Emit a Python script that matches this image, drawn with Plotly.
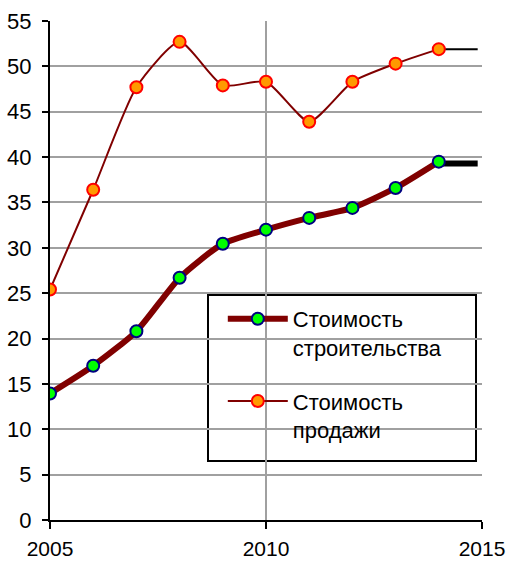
import plotly.graph_objects as go

years = [2005, 2006, 2007, 2008, 2009, 2010, 2011, 2012, 2013, 2014]
construction = [13.95, 17.0, 20.8, 26.7, 30.45, 32.0, 33.3, 34.4, 36.6, 39.5]
sales = [25.4, 36.4, 47.7, 52.7, 47.9, 48.3, 43.9, 48.3, 50.3, 51.9]
tail_x = [2014, 2014.9]
construction_tail = [39.3, 39.3]
sales_tail = [51.9, 51.9]
name_construction = "Стоимость<br>строительства"
name_sales = "Стоимость<br>продажи"
x_ticks = [2005, 2010, 2015]
y_ticks = list(range(0, 60, 5))

FONT = "Liberation Sans, Arial, sans-serif"

fig = go.Figure()
fig.add_trace(go.Scatter(x=tail_x, y=construction_tail, mode="lines",
                         line=dict(color="black", width=6), showlegend=False, hoverinfo="skip"))
fig.add_trace(go.Scatter(x=tail_x, y=sales_tail, mode="lines",
                         line=dict(color="black", width=2), showlegend=False, hoverinfo="skip"))
fig.add_trace(go.Scatter(
    x=years, y=construction, mode="lines+markers", name=name_construction,
    legendgroup="a",
    line=dict(color="#800000", width=6, shape="spline", smoothing=0.6),
    marker=dict(size=12, color="#00ff00", line=dict(color="#000080", width=2)),
))
fig.add_trace(go.Scatter(
    x=years, y=sales, mode="lines+markers", name=name_sales,
    legendgroup="b",
    line=dict(color="#800000", width=2, shape="spline", smoothing=0.6),
    marker=dict(size=12, color="#ff9900", line=dict(color="#ff0000", width=2)),
))

fig.update_layout(
    width=507, height=561,
    margin=dict(l=50, r=25, t=21, b=41, autoexpand=False),
    paper_bgcolor="white", plot_bgcolor="white",
    font=dict(family=FONT, size=22, color="black"),
    showlegend=True,
    legend=dict(
        x=0.40, y=0.445, xanchor="left", yanchor="top",
        bgcolor="rgba(0,0,0,0)", borderwidth=0,
        font=dict(family=FONT, size=22, color="black"),
        itemwidth=60, tracegroupgap=22, valign="top",
    ),
    shapes=[dict(type="rect", xref="paper", yref="paper",
                 x0=(208 - 50) / 432, x1=(476 - 50) / 432,
                 y0=(520 - 461) / 499, y1=(520 - 295) / 499,
                 line=dict(color="black", width=2), fillcolor="rgba(0,0,0,0)", layer="below")],
)
fig.update_xaxes(
    range=[2005, 2015], tickvals=x_ticks, ticktext=[str(v) for v in x_ticks],
    tickfont=dict(size=21),
    showgrid=True, gridcolor="#a0a0a0", gridwidth=2,
    showline=True, linecolor="black", linewidth=2,
    ticks="outside", ticklen=7, tickwidth=2, tickcolor="black",
    ticklabelstandoff=2, zeroline=False, automargin=False,
)
fig.update_yaxes(
    range=[0, 55], tickvals=y_ticks,
    showgrid=True, gridcolor="#a0a0a0", gridwidth=2,
    showline=True, linecolor="black", linewidth=2,
    ticks="outside", ticklen=6, tickwidth=2, tickcolor="black",
    ticklabelstandoff=6, zeroline=False, automargin=False,
)
fig.write_html(
    "out.html",
    config={"displayModeBar": False},
    post_script="document.body.style.margin='0px';document.body.style.overflow='hidden';",
)
